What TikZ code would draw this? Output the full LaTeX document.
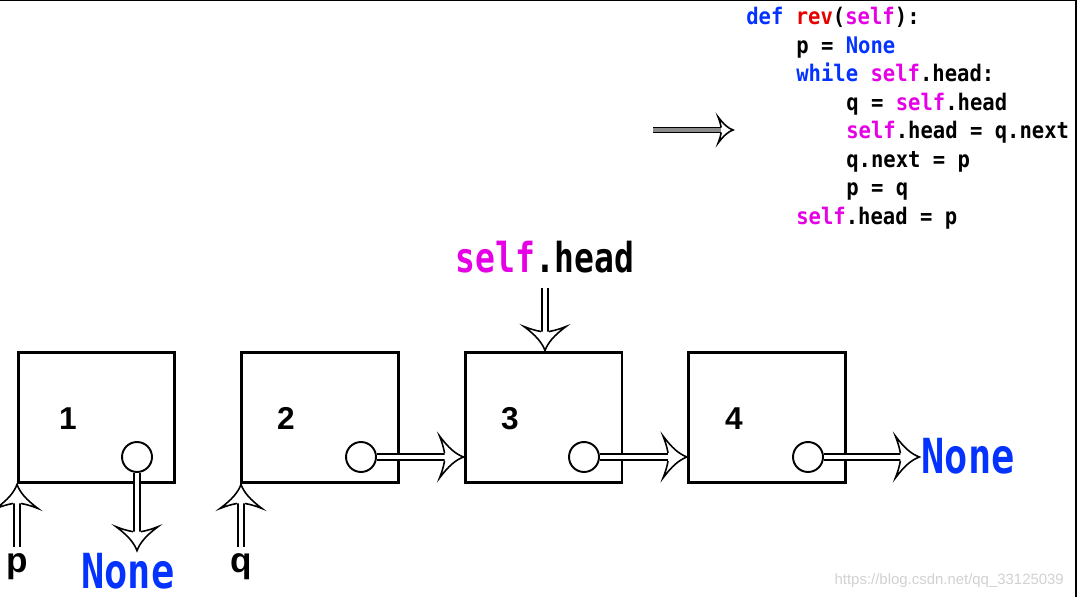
\documentclass[tikz,border=0pt]{standalone}
\usepackage{fontspec}
\setsansfont{Liberation Sans}
\newfontfamily\codefont{DejaVu Sans Mono}[FakeStretch=0.9]
\newfontfamily\labelfont{DejaVu Sans Mono}[FakeStretch=0.8]
\usetikzlibrary{calc}
\definecolor{KwBlue}{HTML}{0433FF}
\definecolor{SelfPink}{HTML}{E600E6}
\definecolor{FnRed}{HTML}{E60000}
\newcommand\pykw[1]{\textcolor{KwBlue}{#1}}
\newcommand\pyfn[1]{\textcolor{FnRed}{#1}}
\newcommand\pyself[1]{\textcolor{SelfPink}{#1}}
% hollow arrow: double shaft plus open head
\newcommand\hollowto[3][]{%
  \begin{scope}[#1]
    \draw[shaft] (#2) -- (#3);
    \path (#2) -- (#3) pic[pos=1,sloped,allow upside down] {hhead};
  \end{scope}}

\begin{document}
\begin{tikzpicture}[x=0.02cm,y=-0.02cm,
    box/.style={draw,line width=1.7pt,minimum width=3.14cm,minimum height=2.62cm},
    ptr/.style={circle,draw,line width=1.1pt,minimum size=0.6cm,inner sep=0pt},
    num/.style={font=\sffamily\bfseries\fontsize{18}{20}\selectfont,inner sep=0pt},
    var/.style={font=\sffamily\bfseries\fontsize{20}{22}\selectfont,inner sep=3pt},
    nonelbl/.style={font=\labelfont\bfseries\fontsize{27.5}{30}\selectfont,text=KwBlue,inner sep=1pt},
    headlbl/.style={font=\labelfont\bfseries\fontsize{23.5}{26}\selectfont,inner sep=8pt},
    code/.style={font=\codefont\bfseries\fontsize{13}{16}\selectfont,inner sep=0pt},
    shaft/.style={draw,line width=0.9pt,double=white,double distance=2.6pt,shorten >=6pt},
    hhead/.pic={
      \filldraw[fill=white,line width=0.9pt]
        (-19,4) .. controls (-20,10) and (-22,16) .. (-24,21)
        .. controls (-15,9) and (-8,3) .. (0,0)
        .. controls (-8,-3) and (-15,-9) .. (-24,-21)
        .. controls (-22,-16) and (-20,-10) .. (-19,-4);
    }]
  \useasboundingbox (0,0) rectangle (1081,597);
  \draw[line width=0.8pt] (0,0.5) -- (1076,0.5) -- (1076,597);

  % the code
  \foreach \i/\ind/\txt in {
      1/0/{\pykw{def} \pyfn{rev}(\pyself{self}):},
      2/1/{p = \pykw{None}},
      3/1/{\pykw{while} \pyself{self}.head:},
      4/2/{q = \pyself{self}.head},
      5/2/{\pyself{self}.head = q.next},
      6/2/{q.next = p},
      7/2/{p = q},
      8/1/{\pyself{self}.head = p}}
    \node[code,anchor=base west] (line\i) at ({746+50*\ind},{25+28.5*(\i-1)}) {\txt};
  \coordinate (cur) at (653,130);
  \coordinate (curtip) at (733,130);
  \hollowto[shaft/.append style={line width=0.7pt,double=black!45,double distance=1.8pt},
    every pic/.style={scale=0.62}]{cur}{curtip}

  % the list
  \node[box] (b1) at (96.5,417.5) {};
  \node[box] (b2) at (320,417.5) {};
  \node[box] (b3) at (543.5,417.5) {};
  \node[box] (b4) at (767,417.5) {};
  \node[num,anchor=base] (n1) at (68,430) {1};
  \node[num,anchor=base] (n2) at (286,430) {2};
  \node[num,anchor=base] (n3) at (510,430) {3};
  \node[num,anchor=base] (n4) at (734,430) {4};
  \node[ptr] (c1) at (137,457) {};
  \node[ptr] (c2) at (361,457) {};
  \node[ptr] (c3) at (584,457) {};
  \node[ptr] (c4) at (808,457) {};

  \node[headlbl,anchor=base] (head) at (545,273) {\pyself{self}.head};
  \node[nonelbl,anchor=base] (none1) at (128,588) {None};
  \node[nonelbl,anchor=base] (none2) at (968,473) {None};
  \node[var,anchor=base] (p) at (17,572) {p};
  \node[var,anchor=base] (q) at (241,572) {q};

  \hollowto{head.south}{head.south |- b3.north}
  \hollowto{c1.south}{c1.south |- none1.north}
  \hollowto{c2.east}{c2.east -| b3.west}
  \hollowto{c3.east}{c3.east -| b4.west}
  \hollowto{c4.east}{c4.east -| none2.west}
  \hollowto{p.north}{p.north |- b1.south}
  \hollowto{q.north}{q.north |- b2.south}

  \node[font=\sffamily\fontsize{8.5}{10}\selectfont,text=black!18,anchor=base east] (mark)
    at (1070,584) {https://blog.csdn.net/qq\_33125039};
\end{tikzpicture}
\end{document}
